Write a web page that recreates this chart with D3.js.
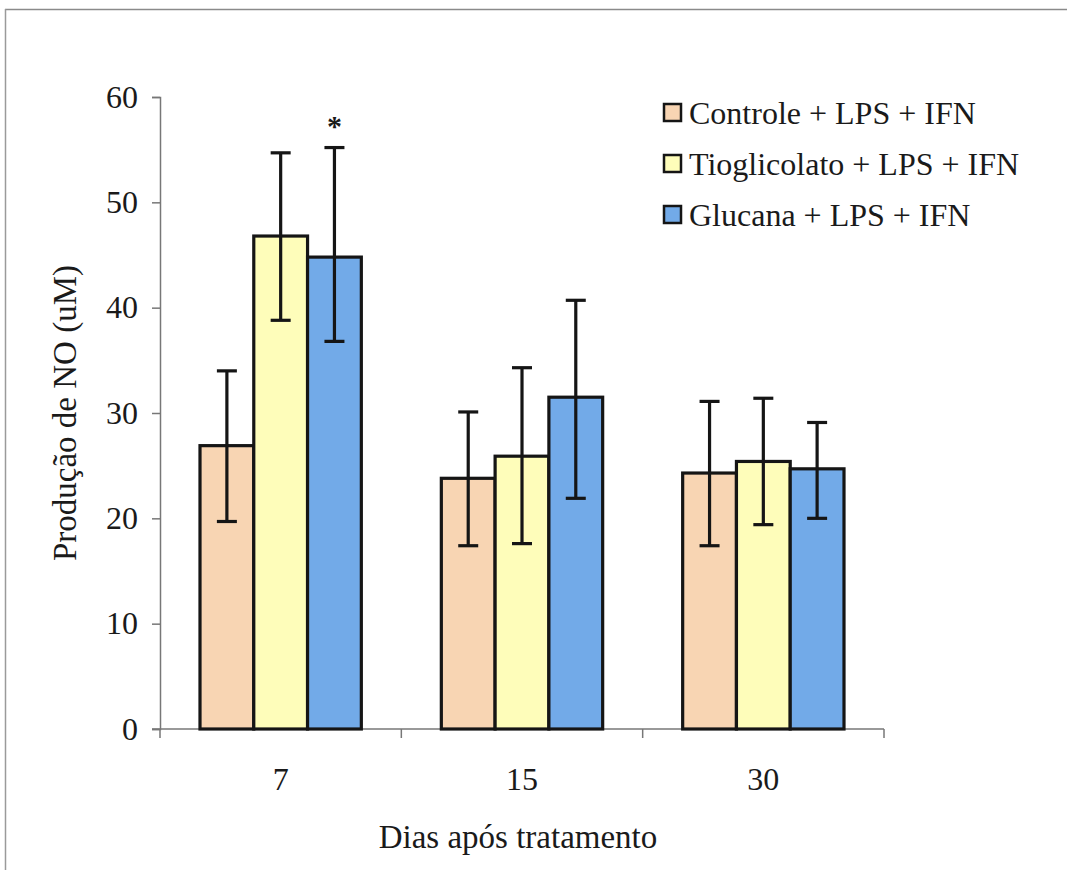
<!DOCTYPE html>
<html>
<head>
<meta charset="utf-8">
<script src="https://cdn.jsdelivr.net/npm/d3@7"></script>
<style>
  html, body { margin: 0; padding: 0; background: #fff; }
  svg { display: block; }
  svg text { font-family: "Liberation Serif", "DejaVu Serif", "Times New Roman", serif; fill: #1a1a1a; }
</style>
</head>
<body>
<svg id="chart" width="1067" height="870"></svg>
<script>
// Days after treatment (groups)
const days = ["7", "15", "30"];
// Treatment series
const seriesNames = ["Controle + LPS + IFN", "Tioglicolato + LPS + IFN", "Glucana + LPS + IFN"];
// Mean NO production (uM) per series, by day
const controleMean = [26.9, 23.8, 24.3];
const tioglicolatoMean = [46.8, 25.9, 25.4];
const glucanaMean = [44.8, 31.5, 24.7];
// Error bar upper and lower limits
const controleHigh = [34.0, 30.1, 31.1];
const controleLow = [19.7, 17.4, 17.4];
const tioglicolatoHigh = [54.7, 34.3, 31.4];
const tioglicolatoLow = [38.8, 17.6, 19.4];
const glucanaHigh = [55.2, 40.7, 29.1];
const glucanaLow = [36.8, 21.9, 20.0];
// Significance markers (series index, day index)
const markers = [{ series: 2, day: 0, label: "*" }];
const yTicks = [0, 10, 20, 30, 40, 50, 60];

const colors = ["#F8D5B3", "#FEFDBA", "#72AAE8"];

const means = [controleMean, tioglicolatoMean, glucanaMean];
const highs = [controleHigh, tioglicolatoHigh, glucanaHigh];
const lows = [controleLow, tioglicolatoLow, glucanaLow];

const rows = [];
days.forEach((d, di) => {
  seriesNames.forEach((s, si) => {
    rows.push({ day: d, series: s, si, value: means[si][di], hi: highs[si][di], lo: lows[si][di] });
  });
});

const svg = d3.select("#chart");

// Frame lines along top and left
svg.append("line").attr("x1", 5).attr("x2", 1067).attr("y1", 9.5).attr("y2", 9.5)
  .attr("stroke", "#8a8a8a").attr("stroke-width", 1.5);
svg.append("line").attr("x1", 5.5).attr("x2", 5.5).attr("y1", 9).attr("y2", 870)
  .attr("stroke", "#9a9a9a").attr("stroke-width", 1.5);

const plotLeft = 160, plotRight = 884, plotTop = 97, plotBottom = 729;

const x0 = d3.scaleBand().domain(days).range([plotLeft, plotRight]).padding(0);
const groupPad = 40;
const x1 = d3.scaleBand().domain(seriesNames)
  .range([groupPad, x0.bandwidth() - groupPad]).padding(0);
const y = d3.scaleLinear().domain([0, 60]).range([plotBottom, plotTop]);

// Y axis
const yAxis = svg.append("g").attr("transform", `translate(${plotLeft},0)`)
  .call(d3.axisLeft(y).tickValues(yTicks).tickSize(8).tickPadding(14));
yAxis.attr("font-family", null).attr("font-size", null);
yAxis.select(".domain").attr("stroke", "#777").attr("stroke-width", 1.5);
yAxis.selectAll(".tick line").attr("stroke", "#777").attr("stroke-width", 1.5);
yAxis.selectAll(".tick text").style("font-size", "32px").attr("fill", "#1a1a1a");

// X axis: category boundary ticks below the baseline
const xAxisG = svg.append("g");
xAxisG.append("line").attr("x1", plotLeft - 8).attr("x2", plotRight).attr("y1", plotBottom).attr("y2", plotBottom)
  .attr("stroke", "#777").attr("stroke-width", 1.5);
const bounds = days.map(d => x0(d)).concat([x0(days[days.length - 1]) + x0.bandwidth()]);
xAxisG.selectAll("line.bt").data(bounds).join("line").attr("class", "bt")
  .attr("x1", d => d).attr("x2", d => d).attr("y1", plotBottom).attr("y2", plotBottom + 9)
  .attr("stroke", "#777").attr("stroke-width", 1.5);
xAxisG.selectAll("text").data(days).join("text")
  .attr("x", d => x0(d) + x0.bandwidth() / 2).attr("y", plotBottom + 61)
  .attr("text-anchor", "middle").style("font-size", "32px")
  .text(d => d);

// Bars
svg.append("g").selectAll("rect").data(rows).join("rect")
  .attr("x", d => x0(d.day) + x1(d.series))
  .attr("y", d => y(d.value))
  .attr("width", x1.bandwidth())
  .attr("height", d => y(0) - y(d.value))
  .attr("fill", d => colors[d.si])
  .attr("stroke", "#151515").attr("stroke-width", 3.2);

// Error bars
const eb = svg.append("g").attr("stroke", "#151515").attr("stroke-width", 3.2);
rows.forEach(d => {
  const cx = x0(d.day) + x1(d.series) + x1.bandwidth() / 2;
  eb.append("line").attr("x1", cx).attr("x2", cx).attr("y1", y(d.hi)).attr("y2", y(d.lo));
  eb.append("line").attr("x1", cx - 10).attr("x2", cx + 10).attr("y1", y(d.hi)).attr("y2", y(d.hi));
  eb.append("line").attr("x1", cx - 10).attr("x2", cx + 10).attr("y1", y(d.lo)).attr("y2", y(d.lo));
});

// Significance markers
markers.forEach(m => {
  const s = seriesNames[m.series], d = days[m.day];
  svg.append("text")
    .attr("x", x0(d) + x1(s) + x1.bandwidth() / 2)
    .attr("y", y(highs[m.series][m.day]) - 12)
    .attr("text-anchor", "middle").style("font-weight", "bold")
    .style("font-size", "30px").text(m.label);
});

// Axis titles
svg.append("text")
  .attr("transform", `translate(76,${(plotTop + plotBottom) / 2}) rotate(-90)`)
  .attr("text-anchor", "middle").style("font-size", "33px")
  .text("Produção de NO (uM)");
svg.append("text")
  .attr("x", 518).attr("y", 848)
  .attr("text-anchor", "middle").style("font-size", "33px")
  .text("Dias após tratamento");

// Legend
const legend = svg.append("g").attr("transform", "translate(663,104)");
seriesNames.forEach((s, i) => {
  const g = legend.append("g").attr("transform", `translate(0,${i * 51})`);
  g.append("rect").attr("x", 1).attr("y", 0).attr("width", 17).attr("height", 17)
    .attr("fill", colors[i]).attr("stroke", "#151515").attr("stroke-width", 2.5);
  g.append("text").attr("x", 26).attr("y", 20).style("font-size", "32px").text(s);
});
</script>
</body>
</html>
